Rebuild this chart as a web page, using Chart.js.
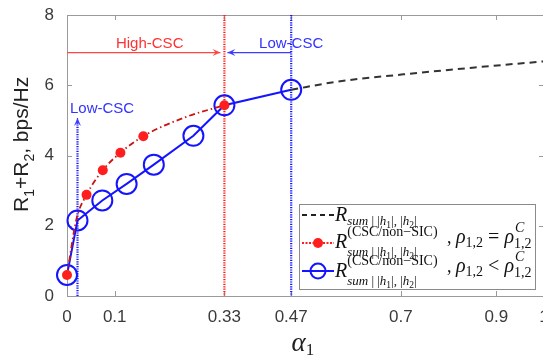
<!DOCTYPE html>
<html>
<head>
<meta charset="utf-8">
<script src="https://cdn.jsdelivr.net/npm/chart.js@4.4.0/dist/chart.umd.min.js"></script>
<style>
  html, body { margin: 0; padding: 0; background: #fff; overflow: hidden; }
  #wrap { width: 543px; height: 359px; overflow: hidden; }
</style>
</head>
<body>
<div id="wrap"><canvas id="chart" width="560" height="359"></canvas></div>
<script>
// values
const xTicks = [0, 0.1, 0.33, 0.47, 0.7, 0.9, 1];
const yTicks = [0, 2, 4, 6, 8];

// R_sum (black dashed)
const sumX = [0.47, 0.565, 0.705, 0.85, 1.0];
const sumY = [5.87, 6.10, 6.31, 6.50, 6.68];

// CSC/non-SIC, rho = rho^C (red dots)
const equalX = [0, 0.02, 0.041, 0.075, 0.112, 0.16, 0.25, 0.33];
const equalY = [0.6, 2.2, 2.88, 3.58, 4.08, 4.55, 5.1, 5.43];
const equalMarker = [5, 0, 5, 5, 5, 5, 0, 5];

// CSC/non-SIC, rho < rho^C (blue circles)
const lessX = [0, 0.022, 0.074, 0.125, 0.182, 0.265, 0.33, 0.47];
const lessY = [0.6, 2.15, 2.72, 3.19, 3.74, 4.56, 5.43, 5.87];

// region boundaries
const highCscEnd = 0.33;
const lowCscStart = 0.47;
const lowCscLeft = 0.022;
const arrowLevel = 6.93;
const leftArrowTop = 5.07;

const RED = "rgb(255,30,30)";
const BLUE = "rgb(20,20,255)";
const AXIS = "#9a9a9a";

function pts(xs, ys) { return xs.map((x, i) => ({ x: x, y: ys[i] })); }

function arrow(ctx, x1, y1, x2, y2, color) {
  const a = Math.atan2(y2 - y1, x2 - x1), len = 8, w = 3.5;
  ctx.strokeStyle = color; ctx.fillStyle = color; ctx.lineWidth = 1.2;
  ctx.setLineDash([]);
  ctx.beginPath(); ctx.moveTo(x1, y1); ctx.lineTo(x2, y2); ctx.stroke();
  ctx.beginPath();
  ctx.moveTo(x2, y2);
  ctx.lineTo(x2 - len * Math.cos(a) + w * Math.sin(a), y2 - len * Math.sin(a) - w * Math.cos(a));
  ctx.lineTo(x2 - len * 0.6 * Math.cos(a), y2 - len * 0.6 * Math.sin(a));
  ctx.lineTo(x2 - len * Math.cos(a) - w * Math.sin(a), y2 - len * Math.sin(a) + w * Math.cos(a));
  ctx.closePath(); ctx.fill();
}

function pieces(ctx, x, y, list) {
  list.forEach(p => {
    ctx.font = p.f;
    ctx.fillText(p.t, x, y + (p.dy || 0));
    x += ctx.measureText(p.t).width;
  });
  return x;
}

const SERIF = '"Liberation Serif"';
const fR = "italic 20px " + SERIF;
const fSubI = "italic 13px " + SERIF;
const fSub = "13px " + SERIF;
const fTiny = "9.5px " + SERIF;

function subSum(dy) {
  return [
    { t: "sum", f: fSubI, dy: dy }, { t: " | |", f: fSub, dy: dy }, { t: "h", f: fSubI, dy: dy },
    { t: "1", f: fTiny, dy: dy + 3 }, { t: "|, |", f: fSub, dy: dy }, { t: "h", f: fSubI, dy: dy },
    { t: "2", f: fTiny, dy: dy + 3 }, { t: "|", f: fSub, dy: dy }
  ];
}

function rhoPart(ctx, x, y, rel) {
  x = pieces(ctx, x, y, [
    { t: ", ", f: "18px " + SERIF }, { t: "ρ", f: fR }, { t: "1,2", f: "14px " + SERIF, dy: 4 },
    { t: " " + rel + " ", f: "20px " + SERIF }, { t: "ρ", f: fR }
  ]);
  pieces(ctx, x + 1, y, [{ t: "C", f: "italic 14px " + SERIF, dy: -11 }]);
  pieces(ctx, x, y, [{ t: "1,2", f: "14px " + SERIF, dy: 5 }]);
}

const overlay = {
  id: "overlay",
  beforeDatasetsDraw(chart) {
    const ctx = chart.ctx, ca = chart.chartArea;
    const xs = chart.scales.x, ys = chart.scales.y;
    ctx.save();
    // box top/right
    ctx.strokeStyle = AXIS; ctx.lineWidth = 1; ctx.setLineDash([]);
    ctx.beginPath();
    ctx.moveTo(ca.left, ca.top + 0.5); ctx.lineTo(ca.right, ca.top + 0.5);
    ctx.moveTo(ca.right - 0.5, ca.top); ctx.lineTo(ca.right - 0.5, ca.bottom);
    ctx.stroke();
    // inside ticks
    ctx.beginPath();
    xTicks.forEach(v => {
      const px = Math.round(xs.getPixelForValue(v)) + 0.5;
      ctx.moveTo(px, ca.bottom); ctx.lineTo(px, ca.bottom - 5);
      ctx.moveTo(px, ca.top); ctx.lineTo(px, ca.top + 5);
    });
    yTicks.forEach(v => {
      const py = Math.round(ys.getPixelForValue(v)) + 0.5;
      ctx.moveTo(ca.left, py); ctx.lineTo(ca.left + 5, py);
      ctx.moveTo(ca.right, py); ctx.lineTo(ca.right - 5, py);
    });
    ctx.stroke();

    // dotted region lines
    ctx.lineWidth = 2.2; ctx.setLineDash([1.2, 1.2]);
    const xr = xs.getPixelForValue(highCscEnd), xb = xs.getPixelForValue(lowCscStart);
    const xl = xs.getPixelForValue(lowCscLeft);
    ctx.strokeStyle = RED;
    ctx.beginPath(); ctx.moveTo(xr, ca.top); ctx.lineTo(xr, ca.bottom); ctx.stroke();
    ctx.strokeStyle = BLUE;
    ctx.beginPath(); ctx.moveTo(xb, ca.top); ctx.lineTo(xb, ca.bottom); ctx.stroke();
    const yTop = ys.getPixelForValue(leftArrowTop);
    ctx.beginPath(); ctx.moveTo(xl, ca.bottom); ctx.lineTo(xl, yTop + 6); ctx.stroke();
    arrow(ctx, xl, yTop + 6, xl, yTop, "rgb(60,60,255)");

    // arrows
    const ya = ys.getPixelForValue(arrowLevel);
    arrow(ctx, ca.left, ya, xr - 4, ya, "rgb(255,70,70)");
    arrow(ctx, xb, ya, xr + 3, ya, "rgb(60,60,255)");

    ctx.font = "15px Arial, 'Liberation Sans'";
    ctx.textAlign = "center"; ctx.textBaseline = "alphabetic";
    ctx.fillStyle = "rgb(255,50,50)";
    ctx.fillText("High-CSC", (ca.left + xr) / 2 + 4, ya - 5);
    ctx.fillStyle = "rgb(50,50,255)";
    ctx.fillText("Low-CSC", xb, ya - 5);
    ctx.textAlign = "left";
    ctx.fillText("Low-CSC", ca.left + 3, yTop - 5);
    ctx.restore();
  },
  afterDraw(chart) {
    const ctx = chart.ctx, ca = chart.chartArea;
    ctx.save();
    // legend box
    const bw = 236, bh = 85;
    const bx = ca.right - 9 - bw, by = ca.bottom - 7 - bh;
    ctx.fillStyle = "#fff"; ctx.fillRect(bx, by, bw, bh);
    ctx.strokeStyle = "#8a8a8a"; ctx.lineWidth = 1; ctx.setLineDash([]);
    ctx.strokeRect(bx + 0.5, by + 0.5, bw, bh);

    const s0 = bx + 3, s1 = bx + 35, sm = (s0 + s1) / 2, tx = bx + 36;
    // row 1
    ctx.strokeStyle = "#222"; ctx.lineWidth = 2; ctx.setLineDash([5, 4]);
    ctx.beginPath(); ctx.moveTo(s0, by + 11); ctx.lineTo(s1, by + 11); ctx.stroke();
    // row 2
    ctx.strokeStyle = RED; ctx.setLineDash([2, 1.5]);
    ctx.beginPath(); ctx.moveTo(s0, by + 39); ctx.lineTo(s1, by + 39); ctx.stroke();
    ctx.setLineDash([]); ctx.fillStyle = RED;
    ctx.beginPath(); ctx.arc(sm, by + 39, 5, 0, Math.PI * 2); ctx.fill();
    // row 3
    ctx.strokeStyle = BLUE; ctx.lineWidth = 2;
    ctx.beginPath(); ctx.moveTo(s0, by + 67); ctx.lineTo(s1, by + 67); ctx.stroke();
    ctx.beginPath(); ctx.arc(sm, by + 67, 7.5, 0, Math.PI * 2); ctx.stroke();

    ctx.fillStyle = "#111"; ctx.textAlign = "left"; ctx.textBaseline = "alphabetic";
    const y1 = by + 16.5;
    const x = pieces(ctx, tx, y1, [{ t: "R", f: fR }]);
    pieces(ctx, x, y1, subSum(4));

    [[by + 44, "="], [by + 73, "<"]].forEach(([yy, rel]) => {
      const xa = pieces(ctx, tx, yy, [{ t: "R", f: fR }]);
      pieces(ctx, xa, yy, [{ t: "(CSC/non−SIC)", f: "14px " + SERIF, dy: -12 }]);
      pieces(ctx, xa, yy, subSum(8));
      rhoPart(ctx, bx + 148, yy - 5, rel);
    });

    // axis titles
    ctx.fillStyle = "#222";
    ctx.save();
    ctx.translate(28, 212);
    ctx.rotate(-Math.PI / 2);
    pieces(ctx, 0, 0, [
      { t: "R", f: "21px Arial" }, { t: "1", f: "14px Arial", dy: 6 },
      { t: "+R", f: "21px Arial" }, { t: "2", f: "14px Arial", dy: 6 },
      { t: ", bps/Hz", f: "21px Arial" }
    ]);
    ctx.restore();
    const xm = (ca.left + ca.right) / 2 - 14;
    pieces(ctx, xm, 351, [{ t: "α", f: "italic 27px " + SERIF }, { t: "1", f: "17px " + SERIF, dy: 4 }]);
    ctx.restore();
  }
};

new Chart(document.getElementById("chart"), {
  type: "line",
  data: {
    datasets: [
      {
        label: "equal", data: pts(equalX, equalY), order: 0,
        borderColor: "rgb(200,20,20)", borderWidth: 1.8, borderDash: [6, 3, 1.5, 3],
        pointRadius: equalMarker, pointBackgroundColor: RED, pointBorderColor: RED,
        pointBorderWidth: 0, cubicInterpolationMode: "monotone", clip: false
      },
      {
        label: "less", data: pts(lessX, lessY), order: 1,
        borderColor: BLUE, borderWidth: 2, tension: 0,
        pointRadius: 10, pointBackgroundColor: "rgba(0,0,0,0)", pointBorderColor: BLUE,
        pointBorderWidth: 2, clip: false
      },
      {
        label: "sum", data: pts(sumX, sumY), order: 2,
        borderColor: "#333", borderWidth: 2, borderDash: [7, 5],
        pointRadius: 0, cubicInterpolationMode: "monotone", clip: false
      }
    ]
  },
  options: {
    responsive: false,
    animation: false,
    devicePixelRatio: 1,
    layout: { padding: { left: 0, top: 15, right: 16, bottom: 0 } },
    plugins: { legend: { display: false }, tooltip: { enabled: false } },
    scales: {
      x: {
        type: "linear", min: 0, max: 1,
        afterBuildTicks: s => { s.ticks = xTicks.map(v => ({ value: v })); },
        afterFit: s => { s.height = 63; s.paddingLeft = 0; s.paddingRight = 0; },
        grid: { display: false },
        border: { display: true, color: AXIS, width: 1 },
        ticks: { color: "#3a3a3a", font: { family: "Arial", size: 17 }, padding: 3, maxRotation: 0,
                 callback: v => String(v) }
      },
      y: {
        min: 0, max: 8,
        afterBuildTicks: s => { s.ticks = yTicks.map(v => ({ value: v })); },
        afterFit: s => { s.width = 67; s.paddingTop = 0; s.paddingBottom = 0; },
        grid: { display: false },
        border: { display: true, color: AXIS, width: 1 },
        ticks: { color: "#3a3a3a", font: { family: "Arial", size: 17 }, padding: 5 }
      }
    }
  },
  plugins: [overlay]
});
</script>
</body>
</html>
